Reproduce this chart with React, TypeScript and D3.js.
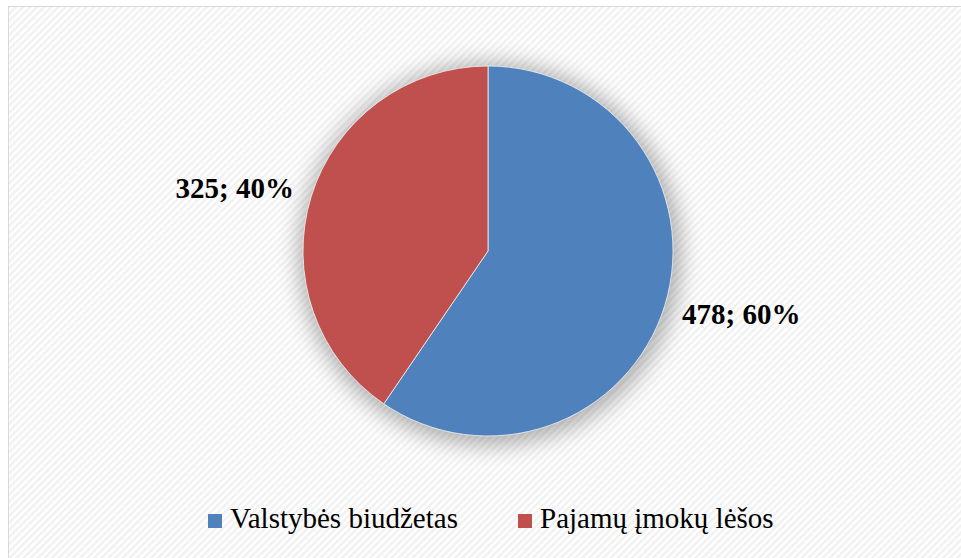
import React from "react";
import * as d3 from "d3";

const categories = ["Valstybės biudžetas", "Pajamų įmokų lėšos"];
const values = [478, 325];
const colors = ["#4f81bd", "#c0504d"];

const width = 961, height = 558;
const cx = 488, cy = 251, radius = 185;
const serif = "Liberation Serif";

const App: React.FC = () => {
  const total = d3.sum(values);
  const pie = d3.pie<number>().sort(null).value(d => d);
  const arcs = pie(values);
  const arc = d3.arc<d3.PieArcDatum<number>>().innerRadius(0).outerRadius(radius);
  const labelArc = d3.arc<d3.PieArcDatum<number>>().innerRadius(265).outerRadius(265);

  // legend layout
  const legendX = [208, 518];
  const legendY = 514;

  return (
    <svg width={width} height={height} style={{ position: "absolute", left: 0, top: 0 }}>
      <defs>
        <pattern id="stripes" width="5" height="5" patternUnits="userSpaceOnUse" patternTransform="rotate(45)">
          <rect width="5" height="5" fill="#ffffff" />
          <rect width="2.5" height="5" fill="#f1f1f1" />
        </pattern>
        <filter id="glow" x="-30%" y="-30%" width="160%" height="160%">
          <feGaussianBlur stdDeviation="11" />
        </filter>
      </defs>
      <rect x={0} y={0} width={width} height={height} fill="#ffffff" />
      <rect x={8.5} y={6.5} width={width + 20} height={height + 20} fill="url(#stripes)" stroke="#d9d9d9" />

      <circle cx={cx + 2} cy={cy + 3} r={radius + 6} fill="#000" opacity={0.3} filter="url(#glow)" />

      <g transform={`translate(${cx},${cy})`}>
        {arcs.map((a, i) => (
          <path key={i} d={arc(a) || ""} fill={colors[i]} stroke="#f2f2f2" strokeWidth={0.8} />
        ))}
        {arcs.map((a, i) => {
          const [lx, ly] = labelArc.centroid(a);
          const pct = Math.round((values[i] / total) * 100);
          return (
            <text
              key={i}
              x={lx}
              y={ly * 0.81}
              dy="0.35em"
              textAnchor="middle"
              fontFamily={serif}
              fontSize={29}
              fontWeight="bold"
              fill="#000"
            >
              {`${values[i]}; ${pct}%`}
            </text>
          );
        })}
      </g>

      {categories.map((c, i) => (
        <g key={c} transform={`translate(${legendX[i]},${legendY})`}>
          <rect x={0} y={0} width={14} height={14} fill={colors[i]} />
          <text x={22} y={14} fontFamily={serif} fontSize={29} fill="#000">{c}</text>
        </g>
      ))}
    </svg>
  );
};

export default App;
